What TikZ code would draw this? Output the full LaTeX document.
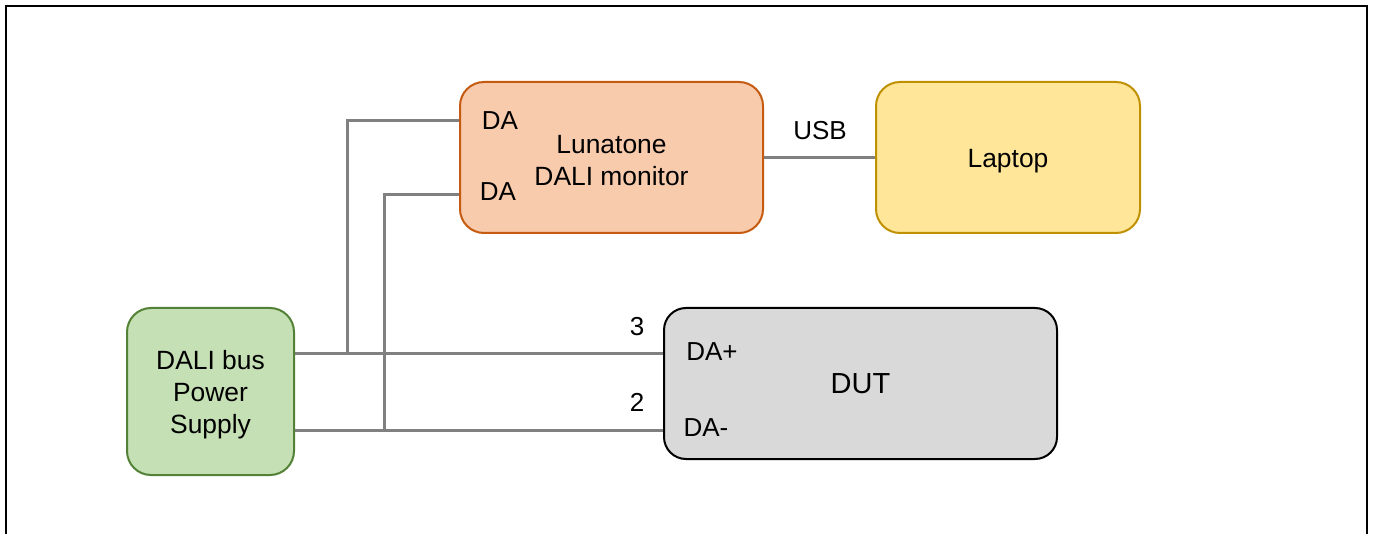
\documentclass[tikz,border=0pt]{standalone}
\usepackage{fontspec}
\setmainfont{Liberation Sans}
\definecolor{psufill}{HTML}{C5E0B4}
\definecolor{psudraw}{HTML}{538135}
\definecolor{monfill}{HTML}{F8CBAD}
\definecolor{mondraw}{HTML}{C55A11}
\definecolor{lapfill}{HTML}{FFE699}
\definecolor{lapdraw}{HTML}{BF9000}
\definecolor{dutfill}{HTML}{D9D9D9}
\definecolor{wirecol}{HTML}{808080}
\begin{document}
\begin{tikzpicture}[x=1pt,y=-1pt,
  box/.style={rectangle, rounded corners=24pt, line width=2pt, inner sep=0pt},
  boxtext/.style={inner sep=0pt, align=center, font=\fontsize{26.4}{32}\selectfont},
  wire/.style={draw=wirecol, line width=3pt},
  lbl/.style={inner sep=0pt, font=\fontsize{26}{30}\selectfont}]
\useasboundingbox (0,0) rectangle (1375,534);
\clip (0,0) rectangle (1375,534);
\draw[line width=2pt] (6,545) -- (6,6) -- (1367,6) -- (1367,545);
\node[box, fill=psufill, draw=psudraw, minimum width=167pt, minimum height=167pt] (psu) at (210.5,391.5) {};
\node[box, fill=monfill, draw=mondraw, minimum width=303pt, minimum height=151pt] (mon) at (611.5,157.5) {};
\node[box, fill=lapfill, draw=lapdraw, minimum width=264pt, minimum height=151pt] (lap) at (1008,157.5) {};
\node[box, fill=dutfill, draw=black, rounded corners=22pt, minimum width=393pt, minimum height=151pt] (dut) at (860.5,383.5) {};
\node[boxtext] (psut) at (210.5,395) {DALI bus\\Power\\Supply};
\node[boxtext] (mont) at (611.5,161) {Lunatone\\DALI monitor};
\node[boxtext] (lapt) at (1008,161) {Laptop};
\node[boxtext, font=\fontsize{29}{34}\selectfont] (dutt) at (dut.center) {DUT};
\coordinate (j1) at (347,353);
\coordinate (j2) at (384,430);
\draw[wire] (psu.east |- j1) -- (dut.west |- j1);
\draw[wire] (psu.east |- j2) -- (dut.west |- j2);
\draw[wire] (j1) |- (mon.west |- 0,121);
\draw[wire] (j2) |- (mon.west |- 0,195);
\draw[wire] (mon.east) -- (lap.west);
% labels
\node[lbl] (da1) at (500,121) {DA};
\node[lbl] (da2) at (498,192) {DA};
\node[lbl] (usb) at (820,131) {USB};
\node[lbl] (n3) at (637,327) {3};
\node[lbl] (n2) at (637,402) {2};
\node[lbl] (dap) at (712,352) {DA+};
\node[lbl] (dam) at (706,428) {DA-};
\end{tikzpicture}
\end{document}
